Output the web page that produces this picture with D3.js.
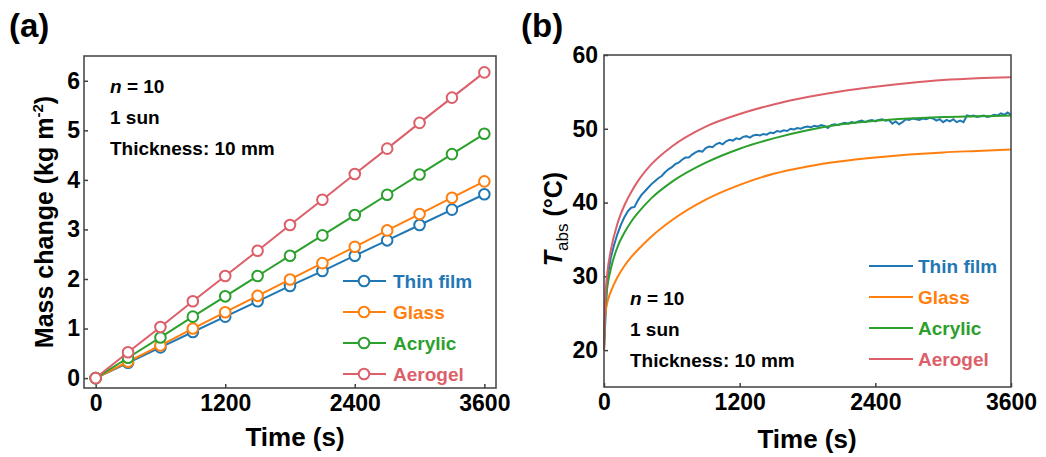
<!DOCTYPE html>
<html>
<head>
<meta charset="utf-8">
<script src="https://cdn.jsdelivr.net/npm/d3@7"></script>
<style>
  body { margin: 0; background: #fff; }
  svg { display: block; font-family: "Liberation Sans", Arial, sans-serif; }
</style>
</head>
<body>
<div id="chart"></div>
<script>
// panel (a): mass change, one point every 300 s
var timeA = [0, 300, 600, 900, 1200, 1500, 1800, 2100, 2400, 2700, 3000, 3300, 3600];
var thinFilmA = [0, 0.31, 0.62, 0.93, 1.24, 1.55, 1.86, 2.16, 2.47, 2.78, 3.09, 3.40, 3.71];
var glassA    = [0, 0.33, 0.66, 1.00, 1.33, 1.66, 1.99, 2.32, 2.65, 2.98, 3.31, 3.64, 3.97];
var acrylicA  = [0, 0.41, 0.82, 1.24, 1.65, 2.06, 2.47, 2.88, 3.29, 3.70, 4.11, 4.52, 4.93];
var aerogelA  = [0, 0.52, 1.03, 1.55, 2.06, 2.57, 3.09, 3.60, 4.12, 4.63, 5.15, 5.66, 6.17];

// panel (b): absorber temperature
var timeB = [0, 10, 30, 60, 120, 180, 240, 300, 420, 600, 900, 1200, 1500, 1800, 2100, 2400, 2700, 3000, 3300, 3600];
var glassB   = [20, 24.5, 26.5, 27.9, 29.9, 31.4, 32.6, 33.6, 35.4, 37.6, 40.4, 42.4, 43.9, 44.9, 45.6, 46.1, 46.5, 46.8, 47.0, 47.2];
var acrylicB = [20, 25.5, 28.6, 31.0, 34.0, 35.9, 37.4, 38.6, 40.6, 42.8, 45.4, 47.3, 48.7, 49.8, 50.6, 51.1, 51.4, 51.6, 51.7, 51.8];
var aerogelB = [20, 26.5, 30.5, 33.5, 37.2, 39.6, 41.4, 42.9, 45.2, 47.6, 50.3, 52.0, 53.3, 54.3, 55.1, 55.7, 56.2, 56.6, 56.85, 57.0];
// thin film is a noisy record, read every 30 s
var thinFilmTimeB = d3.range(0, 3601, 30);
var thinFilmB = [
  20.0, 29.8, 32.5, 34.3, 35.8, 37.0, 38.0, 38.8, 39.3, 39.4,
  40.3, 41.0, 41.5, 42.0, 42.5, 42.9, 43.3, 43.6, 44.1, 44.5,
  44.8, 45.2, 45.4, 45.8, 46.1, 46.1, 46.5, 46.8, 47.0, 46.9,
  47.4, 47.6, 47.5, 47.9, 48.1, 47.9, 48.3, 48.5, 48.4, 48.7,
  48.6, 48.9, 49.0, 48.8, 49.1, 49.2, 49.1, 49.3, 49.2, 49.5,
  49.4, 49.7, 49.6, 49.8, 49.7, 50.0, 49.9, 50.1, 50.0, 50.2,
  50.3, 50.2, 50.4, 50.3, 50.5, 50.4, 50.1, 50.5, 50.6, 50.5,
  50.7, 50.8, 50.7, 50.9, 50.8, 51.0, 51.1, 50.9, 51.1, 51.2,
  51.0, 51.2, 51.3, 51.1, 51.2, 50.7, 51.0, 50.6, 50.9, 51.3,
  51.2, 51.4, 51.3, 51.2, 51.4, 51.3, 51.5, 51.4, 51.1, 51.3,
  50.9, 51.2, 51.0, 51.3, 50.9, 51.1, 50.9, 51.8, 51.7, 51.8,
  51.6, 51.7, 51.8, 51.6, 51.7, 51.9, 51.8, 52.1, 51.9, 52.2,
  51.9
];

var names = ["Thin film", "Glass", "Acrylic", "Aerogel"];
var colors = ["#1f77b4", "#ff7f0e", "#2ca02c", "#dc5f69"];
var xTicks = [0, 1200, 2400, 3600];

var W = 1046, H = 457;
var svg = d3.select("#chart").append("svg")
    .attr("width", W)
    .attr("height", H);

function styleAxis(g) {
    g.select(".domain").remove();
    g.selectAll(".tick line").attr("stroke", "#404040").attr("stroke-width", 1.5);
    g.selectAll("text")
        .attr("font-family", "'Liberation Sans', Arial, sans-serif")
        .attr("font-size", 23)
        .attr("font-weight", "bold")
        .attr("fill", "#000");
}

function frame(box) {
    svg.append("rect")
        .attr("x", box.left).attr("y", box.top)
        .attr("width", box.right - box.left)
        .attr("height", box.bottom - box.top)
        .attr("fill", "none")
        .attr("stroke", "#404040")
        .attr("stroke-width", 1.5);
}

function notes(x, y0) {
    var t = svg.append("g").attr("font-size", 19).attr("font-weight", "bold");
    var n = t.append("text").attr("x", x).attr("y", y0);
    n.append("tspan").attr("font-style", "italic").text("n");
    n.append("tspan").text(" = 10");
    t.append("text").attr("x", x).attr("y", y0 + 31).text("1 sun");
    t.append("text").attr("x", x).attr("y", y0 + 62).text("Thickness: 10 mm");
}

// ---------- panel (a) ----------
var boxA = {left: 84, right: 496, top: 56, bottom: 388};
var xA = d3.scaleLinear().domain([-108, 3708]).range([boxA.left, boxA.right]);
var yA = d3.scaleLinear().domain([-0.2, 6.5]).range([boxA.bottom, boxA.top]);

svg.append("g")
    .attr("transform", "translate(0," + boxA.bottom + ")")
    .call(d3.axisBottom(xA).tickValues(xTicks).tickSize(-4).tickPadding(7).tickFormat(d3.format("d")))
    .call(styleAxis);
svg.append("g")
    .attr("transform", "translate(" + boxA.left + ",0)")
    .call(d3.axisLeft(yA).ticks(7).tickSize(-4).tickPadding(4).tickFormat(d3.format("d")))
    .call(styleAxis);
frame(boxA);

var seriesA = [thinFilmA, glassA, acrylicA, aerogelA];
var lineA = d3.line()
    .x(function(d, i) { return xA(timeA[i]); })
    .y(function(d) { return yA(d); });

seriesA.forEach(function(vals, k) {
    var g = svg.append("g");
    g.append("path")
        .attr("d", lineA(vals))
        .attr("fill", "none")
        .attr("stroke", colors[k])
        .attr("stroke-width", 2);
    g.selectAll("circle")
        .data(vals)
        .enter()
        .append("circle")
        .attr("cx", function(d, i) { return xA(timeA[i]); })
        .attr("cy", function(d) { return yA(d); })
        .attr("r", 5.3)
        .attr("fill", "#fff")
        .attr("stroke", colors[k])
        .attr("stroke-width", 2);
});

notes(110, 93);

// legend (a)
names.forEach(function(name, k) {
    var y = 281 + k * 31;
    svg.append("line")
        .attr("x1", 343).attr("x2", 386).attr("y1", y).attr("y2", y)
        .attr("stroke", colors[k]).attr("stroke-width", 2);
    svg.append("circle")
        .attr("cx", 364).attr("cy", y).attr("r", 5.3)
        .attr("fill", "#fff").attr("stroke", colors[k]).attr("stroke-width", 2);
    svg.append("text")
        .attr("x", 393).attr("y", y).attr("dy", "0.35em")
        .attr("font-size", 19).attr("font-weight", "bold")
        .attr("fill", colors[k])
        .text(name);
});

svg.append("text")
    .attr("x", 295).attr("y", 446)
    .attr("text-anchor", "middle")
    .attr("font-size", 26).attr("font-weight", "bold")
    .text("Time (s)");

var ytA = svg.append("text")
    .attr("transform", "translate(53,222) rotate(-90)")
    .attr("text-anchor", "middle")
    .attr("font-size", 25).attr("font-weight", "bold");
ytA.append("tspan").text("Mass change (kg m");
ytA.append("tspan").attr("font-size", 15).attr("dy", -10).text("-2");
ytA.append("tspan").attr("dy", 10).text(")");

svg.append("text")
    .attr("x", 9).attr("y", 37)
    .attr("font-size", 33).attr("font-weight", "bold")
    .text("(a)");

// ---------- panel (b) ----------
var boxB = {left: 604, right: 1011, top: 55, bottom: 387};
var xB = d3.scaleLinear().domain([0, 3600]).range([boxB.left, boxB.right]);
var yB = d3.scaleLinear().domain([15, 60]).range([boxB.bottom, boxB.top]);

svg.append("g")
    .attr("transform", "translate(0," + boxB.bottom + ")")
    .call(d3.axisBottom(xB).tickValues(xTicks).tickSize(-4).tickPadding(7).tickFormat(d3.format("d")))
    .call(styleAxis);
svg.append("g")
    .attr("transform", "translate(" + boxB.left + ",0)")
    .call(d3.axisLeft(yB).tickValues([20, 30, 40, 50, 60]).tickSize(-4).tickPadding(6))
    .call(styleAxis);

var smoothLine = d3.line()
    .curve(d3.curveMonotoneX)
    .x(function(d) { return xB(d[0]); })
    .y(function(d) { return yB(d[1]); });
var rawLine = d3.line()
    .x(function(d) { return xB(d[0]); })
    .y(function(d) { return yB(d[1]); });

var seriesB = [
    d3.zip(thinFilmTimeB, thinFilmB),
    d3.zip(timeB, glassB),
    d3.zip(timeB, acrylicB),
    d3.zip(timeB, aerogelB)
];
seriesB.forEach(function(pts, k) {
    svg.append("path")
        .attr("d", k === 0 ? rawLine(pts) : smoothLine(pts))
        .attr("fill", "none")
        .attr("stroke", colors[k])
        .attr("stroke-width", 2);
});
frame(boxB);

notes(630, 305);

// legend (b)
names.forEach(function(name, k) {
    var y = 266 + k * 31;
    svg.append("line")
        .attr("x1", 869).attr("x2", 913).attr("y1", y).attr("y2", y)
        .attr("stroke", colors[k]).attr("stroke-width", 2);
    svg.append("text")
        .attr("x", 918).attr("y", y).attr("dy", "0.35em")
        .attr("font-size", 19).attr("font-weight", "bold")
        .attr("fill", colors[k])
        .text(name);
});

svg.append("text")
    .attr("x", 807).attr("y", 448)
    .attr("text-anchor", "middle")
    .attr("font-size", 26).attr("font-weight", "bold")
    .text("Time (s)");

var ytB = svg.append("text")
    .attr("transform", "translate(562,219) rotate(-90)")
    .attr("text-anchor", "middle")
    .attr("font-size", 25).attr("font-weight", "bold");
ytB.append("tspan").attr("font-style", "italic").text("T");
ytB.append("tspan").attr("font-size", 17).attr("font-weight", "normal").attr("dy", 6).text("abs");
ytB.append("tspan").attr("dy", -6).text(" (°C)");

svg.append("text")
    .attr("x", 521).attr("y", 37)
    .attr("font-size", 33).attr("font-weight", "bold")
    .text("(b)");
</script>
</body>
</html>
